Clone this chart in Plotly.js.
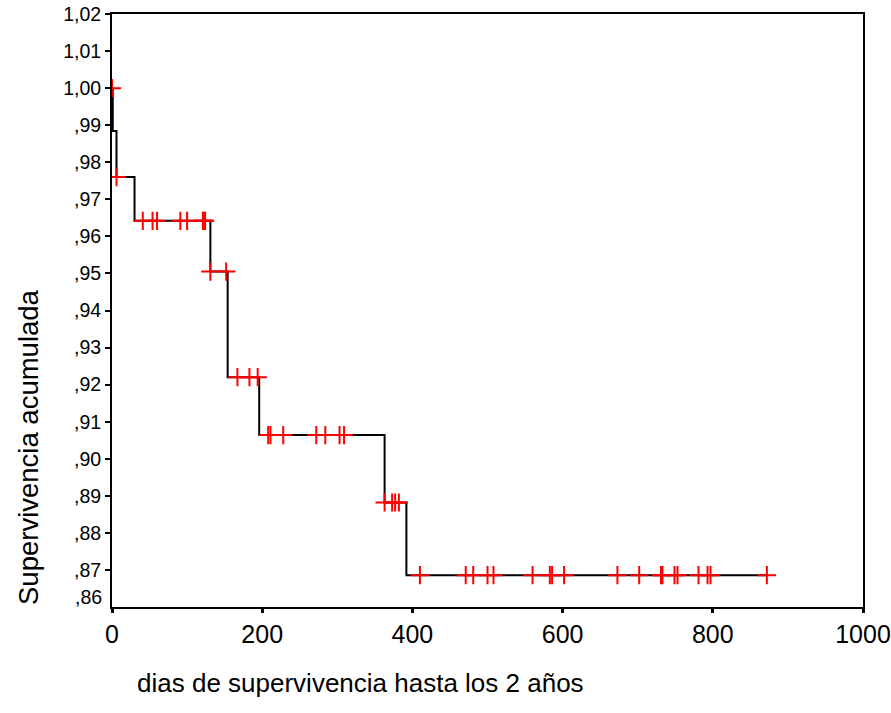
<!DOCTYPE html>
<html>
<head>
<meta charset="utf-8">
<script src="https://cdn.plot.ly/plotly-3.0.1.min.js"></script>
<style>html,body{margin:0;padding:0;background:#fff;}#chart{width:891px;height:713px;}</style>
</head>
<body>
<div id="chart"></div>
<script>
// Kaplan-Meier step curve (time in days, cumulative survival)
var stepTimes = [0, 1, 6, 30, 131, 154, 196, 363, 392, 872];
var stepSurv  = [1.0000, 0.9884, 0.9760, 0.9642, 0.9505, 0.9220, 0.9064, 0.8882, 0.8686, 0.8686];

// Censored observations (time, survival at that time)
var censTimes = [0, 6, 41, 54, 60, 91, 100, 121, 123, 124, 131, 152, 167, 183, 194,
                 208, 211, 228, 272, 284, 303, 309, 363, 373, 377, 382,
                 410, 471, 481, 500, 508, 560, 583, 586, 602, 673, 702,
                 731, 733, 749, 753, 781, 793, 797, 872];
var censSurv  = [1.0000, 0.9760, 0.9642, 0.9642, 0.9642, 0.9642, 0.9642, 0.9642, 0.9642, 0.9642,
                 0.9505, 0.9505, 0.9220, 0.9220, 0.9220,
                 0.9064, 0.9064, 0.9064, 0.9064, 0.9064, 0.9064, 0.9064,
                 0.8882, 0.8882, 0.8882, 0.8882,
                 0.8686, 0.8686, 0.8686, 0.8686, 0.8686, 0.8686, 0.8686, 0.8686, 0.8686, 0.8686, 0.8686,
                 0.8686, 0.8686, 0.8686, 0.8686, 0.8686, 0.8686, 0.8686, 0.8686];

var yTickVals = [0.87, 0.88, 0.89, 0.90, 0.91, 0.92, 0.93, 0.94, 0.95, 0.96, 0.97, 0.98, 0.99, 1.00, 1.01, 1.02];
var yTickText = [",87", ",88", ",89", ",90", ",91", ",92", ",93", ",94", ",95", ",96", ",97", ",98", ",99", "1,00", "1,01", "1,02"];
var xTickVals = [0, 200, 400, 600, 800, 1000];
var xTickText = ["0", "200", "400", "600", "800", "1000"];

var font = "Liberation Sans, Arial, sans-serif";
var narrow = "Liberation Sans Narrow, Arial Narrow, Liberation Sans, Arial, sans-serif";

var traces = [
  {
    x: stepTimes, y: stepSurv, type: "scatter", mode: "lines",
    line: {shape: "hv", color: "#000", width: 2},
    hoverinfo: "skip", showlegend: false
  },
  {
    x: censTimes, y: censSurv, type: "scatter", mode: "markers",
    marker: {symbol: "cross-thin-open", size: 13, color: "#ff0000", line: {color: "#ff0000", width: 2}},
    showlegend: false
  }
];

var layout = {
  width: 891, height: 713,
  paper_bgcolor: "#fff", plot_bgcolor: "#fff",
  margin: {l: 112, r: 28, t: 14, b: 106},
  showlegend: false,
  xaxis: {
    range: [0, 1000], tickvals: xTickVals, ticktext: xTickText,
    showgrid: false, zeroline: false,
    showline: true, linecolor: "#000", linewidth: 2, mirror: true,
    ticks: "outside", ticklen: 4, tickwidth: 3, tickcolor: "#000",
    tickfont: {family: narrow, size: 25, color: "#000"},
    automargin: false
  },
  yaxis: {
    range: [0.86, 1.02], tickvals: yTickVals, ticktext: yTickText,
    showgrid: false, zeroline: false,
    showline: true, linecolor: "#000", linewidth: 2, mirror: true,
    ticks: "outside", ticklen: 5, tickwidth: 2, tickcolor: "#000",
    tickfont: {family: font, size: 19.5, color: "#000"},
    automargin: false
  },
  annotations: [
    {text: ",86", xref: "paper", yref: "y", x: 0, y: 0.86, xanchor: "right", yanchor: "middle",
     xshift: -8, yshift: 10, showarrow: false, font: {family: font, size: 19.5, color: "#000"}},
    {text: "dias de supervivencia hasta los 2 años", xref: "paper", yref: "paper",
     x: (135 - 112) / 750, y: 0, xanchor: "left", yanchor: "middle", yshift: -76,
     showarrow: false, font: {family: font, size: 26, color: "#000"}},
    {text: "Supervivencia acumulada", xref: "paper", yref: "paper", textangle: -90,
     x: 0, y: 0, xanchor: "center", yanchor: "bottom", xshift: -84,
     showarrow: false, font: {family: font, size: 27.5, color: "#000"}}
  ]
};

Plotly.newPlot("chart", traces, layout, {displayModeBar: false, staticPlot: true});
</script>
</body>
</html>
